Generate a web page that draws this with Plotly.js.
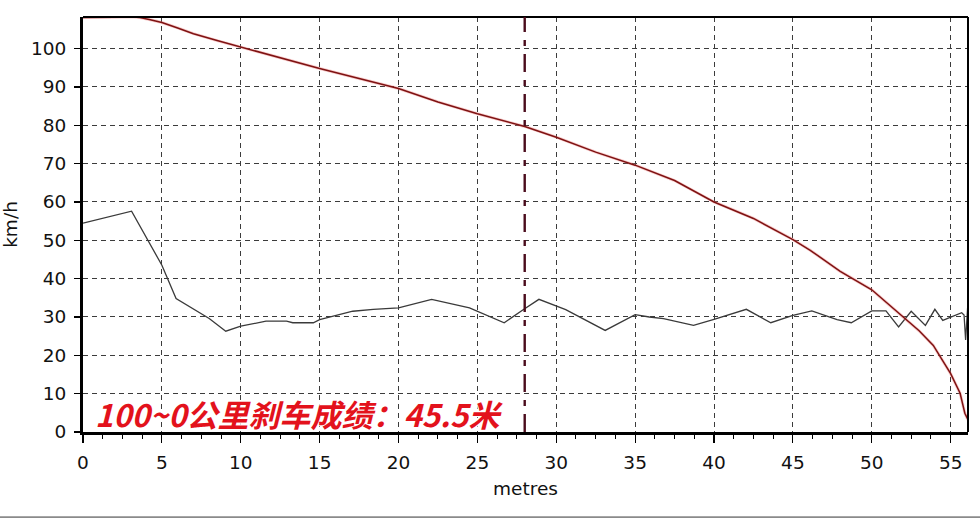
<!DOCTYPE html>
<html>
<head>
<meta charset="utf-8">
<script src="https://cdn.plot.ly/plotly-3.0.1.min.js"></script>
<style>
html,body{margin:0;padding:0;background:#fff;}
#chart{width:980px;height:518px;}
</style>
</head>
<body>
<div id="chart"></div>
<script>
// Speed trace (km/h) against distance (metres)
const speedX = [0, 1, 2, 3, 3.6, 4.2, 5, 6, 7, 8.5, 10, 12.5, 15, 17.5, 20, 22.5, 25, 28, 30, 32.5, 35, 37.5, 40, 42.5, 45, 46.1, 48, 50, 51, 52, 53, 53.9, 55, 55.6, 55.9, 56.1];
const speedY = [108.1, 108.1, 108.2, 108.3, 108.1, 107.6, 106.8, 105.4, 103.9, 102.1, 100.4, 97.6, 94.8, 92.2, 89.6, 86.1, 83.0, 79.7, 76.9, 73.0, 69.6, 65.6, 60.0, 55.7, 50.2, 47.4, 41.9, 37.1, 33.6, 30.0, 26.4, 22.6, 15.2, 10.1, 4.9, 3.2];

// Second trace (deceleration-like line)
const decelX = [0, 3.08, 5.0, 5.9, 8.0, 9.05, 10, 11.6, 12.9, 13.3, 14.6, 15.0, 17.1, 18.4, 20.0, 22.1, 24.5, 26.7, 27.9, 28.9, 30.6, 31.7, 33.1, 35.0, 35.9, 36.8, 38.7, 40.0, 42.05, 43.6, 45.0, 46.2, 47.8, 48.7, 50.0, 50.9, 51.7, 52.5, 53.4, 54.0, 54.5, 55.7, 55.85, 55.95, 56.1];
const decelY = [54.5, 57.6, 43.5, 34.8, 29.6, 26.3, 27.6, 28.9, 28.9, 28.5, 28.5, 29.3, 31.5, 32.0, 32.4, 34.6, 32.4, 28.5, 31.9, 34.6, 31.9, 29.6, 26.5, 30.6, 30.0, 29.6, 27.8, 29.4, 32.0, 28.5, 30.4, 31.6, 29.3, 28.5, 31.6, 31.6, 27.4, 31.5, 27.8, 32.0, 29.1, 31.1, 30.5, 24.0, 34.0];

const xTicks = [0, 5, 10, 15, 20, 25, 30, 35, 40, 45, 50, 55];
const yTicks = [0, 10, 20, 30, 40, 50, 60, 70, 80, 90, 100];
const markerDistance = 28;
const noteText = '100~0公里刹车成绩：45.5米';
const noteX = 13.7, noteY = 4.9;

const axisFont = {family: 'DejaVu Sans, sans-serif', size: 18.5, color: '#111'};

const traces = [
  {x: decelX, y: decelY, type: 'scatter', mode: 'lines',
   line: {color: '#3a3a3a', width: 1.3}, hoverinfo: 'skip'},
  {x: speedX, y: speedY, type: 'scatter', mode: 'lines',
   line: {color: '#f08080', width: 3}, opacity: 0.4, hoverinfo: 'skip'},
  {x: speedX, y: speedY, type: 'scatter', mode: 'lines',
   line: {color: '#7e1212', width: 1.5}, hoverinfo: 'skip'}
];

const layout = {
  width: 980, height: 518,
  margin: {l: 83, r: 12, t: 17, b: 86},
  paper_bgcolor: '#ffffff', plot_bgcolor: '#ffffff',
  showlegend: false,
  font: axisFont,
  xaxis: {
    range: [0, 56.1], tickvals: xTicks, ticktext: xTicks.map(String),
    showgrid: true, gridcolor: '#3c3c3c', gridwidth: 1, griddash: '5px,4px',
    zeroline: false, showline: true, linecolor: '#000', linewidth: 3,
    ticks: 'outside', ticklen: 8, tickwidth: 1.2, tickcolor: '#000',
    ticklabelstandoff: 4,
    minor: {dtick: 1.25, ticks: 'outside', ticklen: 4, tickwidth: 1, tickcolor: '#000', showgrid: false},
    tickfont: axisFont,
    title: {text: 'metres', font: axisFont, standoff: 10}
  },
  yaxis: {
    range: [0, 108.25], tickvals: yTicks, ticktext: yTicks.map(String),
    showgrid: true, gridcolor: '#3c3c3c', gridwidth: 1, griddash: '5px,4px',
    zeroline: false, showline: true, linecolor: '#000', linewidth: 3,
    ticks: 'outside', ticklen: 6, tickwidth: 1.2, tickcolor: '#000',
    ticklabelstandoff: 4,
    tickfont: axisFont,
    title: {text: 'km/h', font: axisFont, standoff: 14}
  },
  shapes: [
    {type: 'line', xref: 'paper', yref: 'paper', x0: 0, x1: 1, y0: 1, y1: 1,
     line: {color: '#000', width: 2}},
    {type: 'line', xref: 'paper', yref: 'paper', x0: 1, x1: 1, y0: 0, y1: 1,
     line: {color: '#000', width: 2}},
    {type: 'line', xref: 'x', yref: 'paper', x0: markerDistance, x1: markerDistance, y0: 0, y1: 1,
     line: {color: '#4a0c1c', width: 2.4, dash: '18px,8px,6px,8px'}},
    {type: 'rect', xref: 'paper', yref: 'paper', x0: -0.1, x1: 1.02, y0: -0.212, y1: -0.203,
     fillcolor: '#8a8a8a', line: {width: 0}}
  ],
  annotations: [
    {x: noteX, y: noteY, xref: 'x', yref: 'y', text: noteText, showarrow: false,
     font: {family: 'Noto Sans CJK SC, sans-serif', size: 31, color: '#e3121c', weight: 'bold', style: 'italic',
            shadow: '1px 1px 1px #ffffff, -1px -1px 1px #ffffff, 1px -1px 1px #ffffff, -1px 1px 1px #ffffff'}}
  ]
};

Plotly.newPlot('chart', traces, layout, {displayModeBar: false, staticPlot: true});
</script>
</body>
</html>
